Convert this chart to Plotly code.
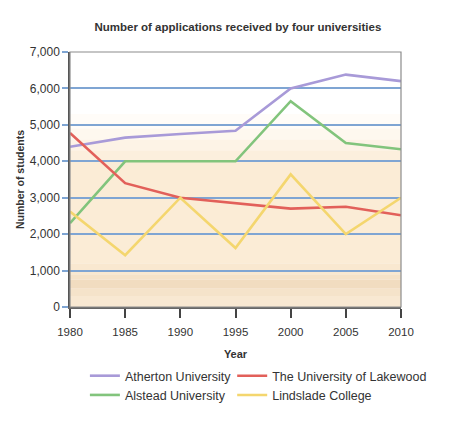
import plotly.graph_objects as go

years = [1980, 1985, 1990, 1995, 2000, 2005, 2010]
atherton = [4400, 4650, 4750, 4840, 6000, 6380, 6200]
lakewood = [4780, 3400, 3000, 2850, 2700, 2750, 2520]
alstead = [2300, 4000, 4000, 4000, 5650, 4500, 4330]
lindslade = [2620, 1420, 3000, 1620, 3640, 2000, 3000]

y_ticks = [0, 1000, 2000, 3000, 4000, 5000, 6000, 7000]
y_labels = ["0", "1,000", "2,000", "3,000", "4,000", "5,000", "6,000", "7,000"]
x_ticks = years

font_main = "Liberation Sans, Arial, sans-serif"

fig = go.Figure()

# left legend column: Atherton / Alstead, right column: Lakewood / Lindslade
series = [
    ("Atherton University", atherton, "#a89ad8", "legend"),
    ("Alstead University", alstead, "#82c47c", "legend"),
    ("The University of Lakewood", lakewood, "#e2605a", "legend2"),
    ("Lindslade College", lindslade, "#f4d66e", "legend2"),
]
for name, vals, col, lg in series:
    fig.add_trace(go.Scatter(
        x=years, y=vals, mode="lines", name=name, legend=lg,
        line=dict(color=col, width=2.6),
    ))

# soft warm background bands inside the plot area (faked gradient)
bands = [
    (4900, 5300, "#fffcf8"),
    (4600, 4900, "#fef8ef"),
    (4300, 4600, "#fdf3e6"),
    (4000, 4300, "#fcefdd"),
    (1200, 4000, "#fbecd6"),
    (900, 1200, "#f9e8d0"),
    (750, 900, "#f5e2c8"),
    (500, 750, "#f1dcc0"),
    (300, 500, "#f5e3ca"),
    (0, 300, "#f8e8d2"),
]
for y0, y1, c in bands:
    fig.add_shape(type="rect", xref="paper", yref="y", x0=0, x1=1, y0=y0, y1=y1,
                  fillcolor=c, line_width=0, layer="below")

# right and top frame
fig.add_shape(type="rect", xref="paper", yref="paper", x0=0, x1=1, y0=0, y1=1,
              line=dict(color="#8c8c8c", width=1.2), layer="above")

legend_style = dict(
    orientation="v", yanchor="top", xanchor="left",
    font=dict(family=font_main, size=12.5, color="#333333"),
    bgcolor="rgba(0,0,0,0)", tracegroupgap=0, itemwidth=30,
)

fig.update_layout(
    width=474, height=424,
    margin=dict(l=62, r=81, t=44, b=125),
    paper_bgcolor="white", plot_bgcolor="white",
    font=dict(family=font_main, size=11, color="#333333"),
    title=dict(text="<b>Number of applications received by four universities</b>",
               x=0.485, xanchor="center", y=0.955, yanchor="middle",
               font=dict(family=font_main, size=11.5, color="#333333")),
    xaxis=dict(
        range=[1980, 2010], tickvals=x_ticks, showgrid=False, zeroline=False,
        ticks="outside", ticklen=9, tickwidth=2, tickcolor="#444444",
        showline=True, linecolor="#666666", linewidth=1.5,
        ticklabelstandoff=4,
        title=dict(text="<b>Year</b>", standoff=14,
                   font=dict(family=font_main, size=11)),
        tickfont=dict(size=11.5),
    ),
    yaxis=dict(
        range=[0, 7000], tickvals=y_ticks, ticktext=y_labels,
        showgrid=True, gridcolor="#7fa5d3", gridwidth=1.5, zeroline=False,
        ticks="outside", ticklen=6, tickcolor="#7fa5d3", tickwidth=1.5,
        showline=True, linecolor="#555555", linewidth=1.5,
        title=dict(text="<b>Number of students</b>", standoff=3,
                   font=dict(family=font_main, size=10.5)),
        tickfont=dict(size=12),
    ),
    legend=dict(x=0.045, y=-0.212, **legend_style),
    legend2=dict(x=0.49, y=-0.212, **legend_style),
)

fig.write_html("out.html")
